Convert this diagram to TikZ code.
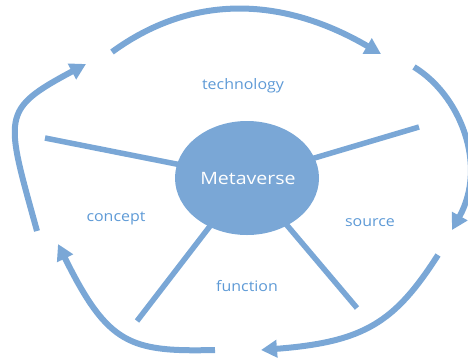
\documentclass[tikz,border=0pt]{standalone}
\usepackage{fontspec}
\setmainfont{Open Sans}
\usetikzlibrary{arrows.meta,shapes.geometric,backgrounds}
\definecolor{flow}{HTML}{7AA7D6}
\definecolor{labeltext}{HTML}{5E9AD6}
\begin{document}
\begin{tikzpicture}[x=1pt,y=-1pt,
  flowarrow/.style={draw=flow,line width=6pt,-{Triangle[length=16pt,width=17pt]}},
  spoke/.style={draw=flow,line width=5.5pt},
  hub/.style={ellipse,fill=flow,minimum width=144pt,minimum height=114pt,inner sep=0pt},
  aspect/.style={text=labeltext,font=\fontsize{14.5}{16}\selectfont,xscale=1.1,anchor=base,inner sep=0pt}]
\useasboundingbox (0,0) rectangle (468,357);

% spoke ends
\coordinate (sA) at (45,138);
\coordinate (sB) at (419,127);
\coordinate (sC) at (137,321);
\coordinate (sD) at (357,308);

% cycle arrow ends
\coordinate (a1) at (112,52);  \coordinate (b1) at (381,54);
\coordinate (a2) at (414,67);  \coordinate (b2) at (452,230);
\coordinate (a3) at (438,255); \coordinate (b3) at (261,350);
\coordinate (a4) at (215,350); \coordinate (b4) at (58,244);
\coordinate (a5) at (37,231);  \coordinate (b5) at (86,64);

% central hub
\node[hub] (meta) at (247,178) {};
\node[text=white,font=\fontsize{17}{20}\selectfont,xscale=1.15,anchor=base,inner sep=0pt] (title) at (248,184) {Metaverse};

% spokes run underneath the hub
\begin{scope}[on background layer]
  \draw[spoke] (sA) -- (meta.center);
  \draw[spoke] (sB) -- (meta.center);
  \draw[spoke] (sC) -- (meta.center);
  \draw[spoke] (sD) -- (meta.center);
\end{scope}

% the cycle of arrows around the hub
\draw[flowarrow] (a1) .. controls (190,-5) and (280,-5) .. (b1);
\draw[flowarrow] (a2) .. controls (460,95) and (488,165) .. (b2);
\draw[flowarrow] (a3) .. controls (395,322) and (365,342) .. (b3);
\draw[flowarrow] (a4) .. controls (130,352) and (108,345) .. (b4);
\draw[flowarrow] (a5) .. controls (5,115) and (0,110) .. (b5);

\node[aspect] (tech) at (243,89) {technology};
\node[aspect] (concept) at (116,221) {concept};
\node[aspect] (source) at (370,226) {source};
\node[aspect] (function) at (247,291) {function};
\end{tikzpicture}
\end{document}
